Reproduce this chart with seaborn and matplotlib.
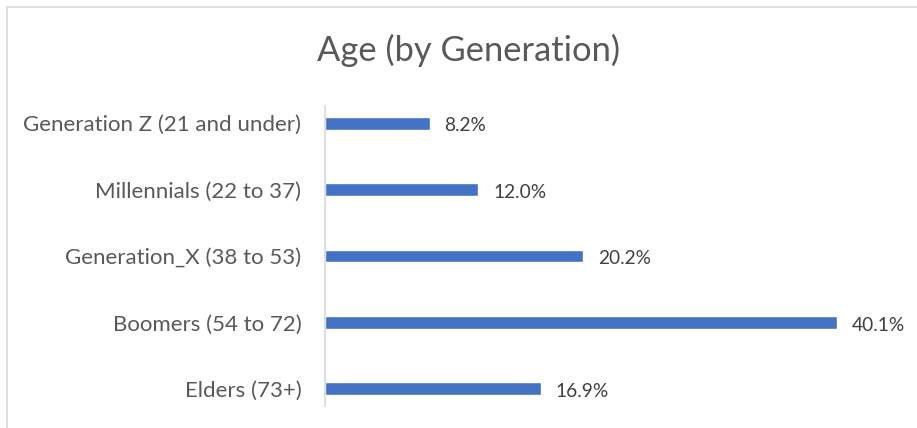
import matplotlib
matplotlib.use("Agg")
import matplotlib.pyplot as plt
import seaborn as sns
import pandas as pd
from matplotlib.patches import Rectangle

sns.set_theme(style="white")
plt.rcParams["font.family"] = ["Lato", "DejaVu Sans"]

generations = ["Generation Z (21 and under)", "Millennials (22 to 37)",
               "Generation_X (38 to 53)", "Boomers (54 to 72)", "Elders (73+)"]
shares = [8.2, 12.0, 20.2, 40.1, 16.9]

df = pd.DataFrame({"generation": generations, "share": shares})

fig = plt.figure(figsize=(9.17, 4.28), dpi=100)
W, H = 917, 428
ax = fig.add_axes([325 / W, 1 - 422 / H, 575 / W, 332 / H])

sns.barplot(data=df, x="share", y="generation", color="#4472C4",
            width=0.19, ax=ax, saturation=1)

ax.set_xlim(0, 45)
ax.set_ylim(4.5, -0.5)
ax.set_xlabel("")
ax.set_ylabel("")
ax.set_xticks([])
for s in ["top", "right", "bottom"]:
    ax.spines[s].set_visible(False)
ax.spines["left"].set_color("#D9D9D9")
ax.spines["left"].set_linewidth(1.2)
ax.spines["left"].set_bounds(4.26, -0.26)
ax.tick_params(axis="y", length=0, pad=17, labelsize=16, labelcolor="#595959")

for i, v in enumerate(shares):
    ax.text(v + 1.15, i + 0.04, f"{v:.1f}%", va="center", ha="left",
            fontsize=13.8, color="#404040")

fig.text(469 / W, 1 - 50 / H, "Age (by Generation)", ha="center", va="center",
         fontsize=24.8, color="#595959")

fig.patches.append(Rectangle((7 / W, -0.01), 0.999, 1 - 7 / H + 0.01,
                             transform=fig.transFigure, fill=False,
                             edgecolor="#D9D9D9", linewidth=1.2))

fig.savefig("out.png", dpi=100)
